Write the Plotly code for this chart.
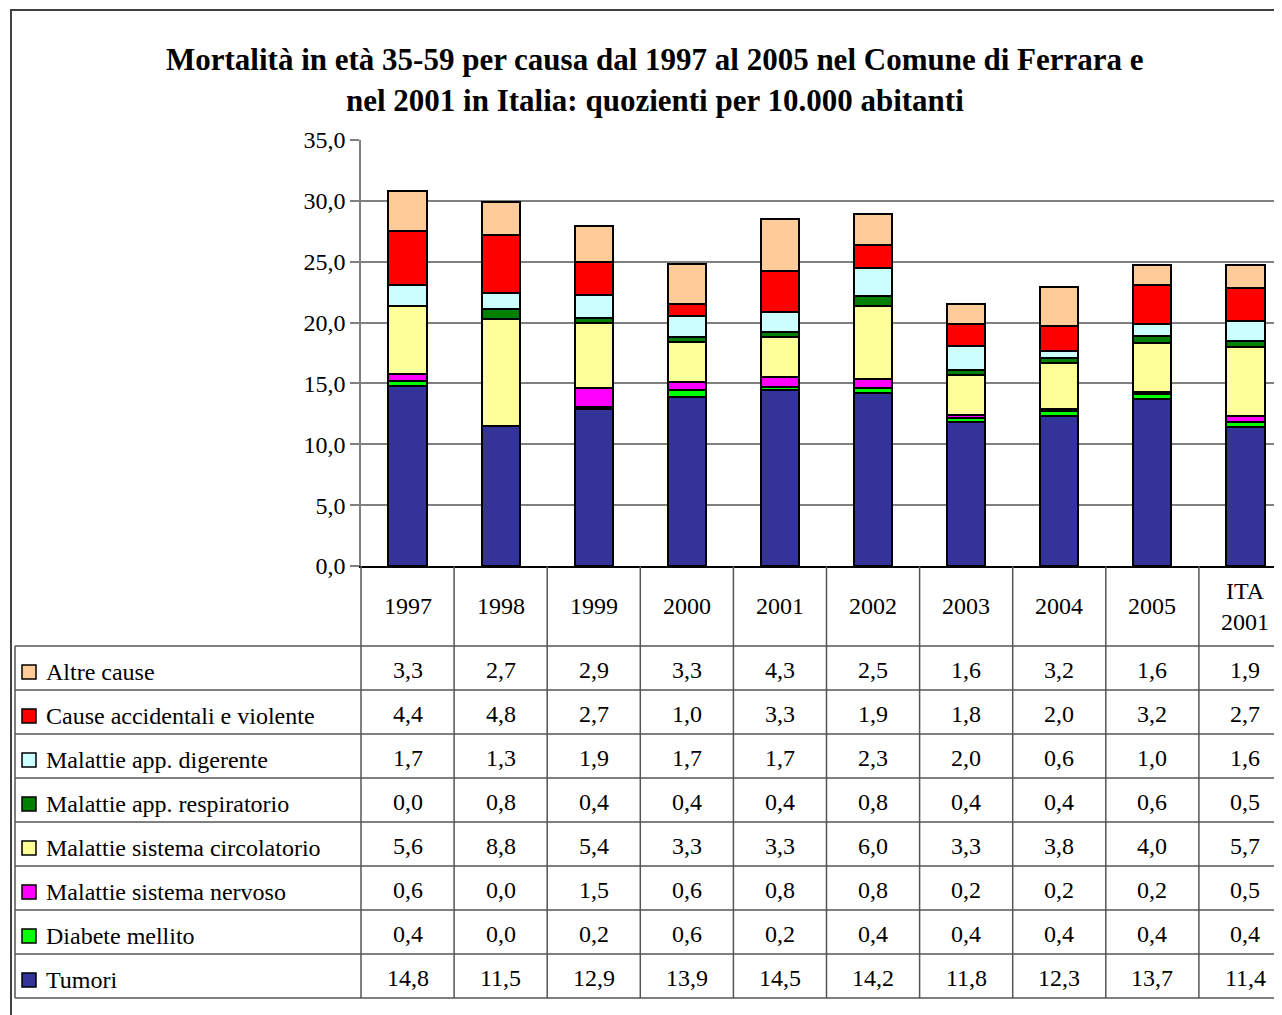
import plotly.graph_objects as go

# data
years = ["1997", "1998", "1999", "2000", "2001", "2002", "2003", "2004", "2005", "ITA<br>2001"]

tumori = [14.8, 11.5, 12.9, 13.9, 14.5, 14.2, 11.8, 12.3, 13.7, 11.4]
diabete = [0.4, 0.0, 0.2, 0.6, 0.2, 0.4, 0.4, 0.4, 0.4, 0.4]
nervoso = [0.6, 0.0, 1.5, 0.6, 0.8, 0.8, 0.2, 0.2, 0.2, 0.5]
circolatorio = [5.6, 8.8, 5.4, 3.3, 3.3, 6.0, 3.3, 3.8, 4.0, 5.7]
respiratorio = [0.0, 0.8, 0.4, 0.4, 0.4, 0.8, 0.4, 0.4, 0.6, 0.5]
digerente = [1.7, 1.3, 1.9, 1.7, 1.7, 2.3, 2.0, 0.6, 1.0, 1.6]
accidentali = [4.4, 4.8, 2.7, 1.0, 3.3, 1.9, 1.8, 2.0, 3.2, 2.7]
altre = [3.3, 2.7, 2.9, 3.3, 4.3, 2.5, 1.6, 3.2, 1.6, 1.9]

# bottom -> top of the stack
series = [
    ("Tumori", tumori, "#333399"),
    ("Diabete mellito", diabete, "#00FF00"),
    ("Malattie sistema nervoso", nervoso, "#FF00FF"),
    ("Malattie sistema circolatorio", circolatorio, "#FFFF99"),
    ("Malattie app. respiratorio", respiratorio, "#008000"),
    ("Malattie app. digerente", digerente, "#CCFFFF"),
    ("Cause accidentali e violente", accidentali, "#FF0000"),
    ("Altre cause", altre, "#FFCC99"),
]

FONT = "Liberation Serif, Times New Roman, serif"
OFF = 8  # page body margin
W, H = 1282 - OFF, 1015 - OFF
# plot area in screen pixels
L, R, T, B = 361, 1282, 140, 566
COL = 93.1
ROW = 44
TAB_TOP = 646
TXT = 24


def fx(p):
    return (p - L) / (R - L)


def fy(p):
    return (B - p) / (B - T)


def fmt(v):
    return f"{v:.1f}".replace(".", ",")


xpos = list(range(len(years)))

fig = go.Figure()
for name, vals, color in series:
    fig.add_trace(go.Bar(
        x=xpos, y=vals, name=name, width=0.41,
        marker=dict(color=color, line=dict(color="black", width=2)),
        showlegend=False,
    ))

shapes = []
annotations = []
line_col = "#555555"

# outer chart border
shapes.append(dict(type="rect", xref="paper", yref="paper",
                   x0=fx(11), x1=fx(1300), y0=fy(1030), y1=fy(10),
                   line=dict(color="#404040", width=2)))

# table vertical lines
for k in range(len(years) + 1):
    xp = L + COL * k
    shapes.append(dict(type="line", xref="paper", yref="paper",
                       x0=fx(xp), x1=fx(xp), y0=fy(B), y1=fy(TAB_TOP + ROW * len(series)),
                       line=dict(color=line_col, width=1.5)))
shapes.append(dict(type="line", xref="paper", yref="paper",
                   x0=fx(15), x1=fx(15), y0=fy(TAB_TOP), y1=fy(TAB_TOP + ROW * len(series)),
                   line=dict(color=line_col, width=1.5)))
# table horizontal lines
for r in range(len(series) + 1):
    yp = TAB_TOP + ROW * r
    shapes.append(dict(type="line", xref="paper", yref="paper",
                       x0=fx(15), x1=fx(1300), y0=fy(yp), y1=fy(yp),
                       line=dict(color=line_col, width=1.5)))

# header labels
for k, lab in enumerate(years):
    annotations.append(dict(xref="paper", yref="paper", x=fx(L + COL * (k + 0.5)), y=fy(606),
                            text=lab, showarrow=False, xanchor="center", yanchor="middle",
                            font=dict(family=FONT, size=TXT, color="black")))

# rows: top row is the top of the stack
for r, (name, vals, color) in enumerate(reversed(series)):
    yc = TAB_TOP + ROW * r + 26
    shapes.append(dict(type="rect", xref="paper", yref="paper",
                       x0=fx(22), x1=fx(36), y0=fy(yc - 7), y1=fy(yc + 7),
                       fillcolor=color, line=dict(color="black", width=1.5)))
    annotations.append(dict(xref="paper", yref="paper", x=fx(44), y=fy(yc),
                            text=name, showarrow=False, xanchor="left", yanchor="middle",
                            font=dict(family=FONT, size=TXT, color="black")))
    for k, v in enumerate(vals):
        annotations.append(dict(xref="paper", yref="paper", x=fx(L + COL * (k + 0.5)), y=fy(yc - 2),
                                text=fmt(v), showarrow=False, xanchor="center", yanchor="middle",
                                font=dict(family=FONT, size=TXT, color="black")))

# title
annotations.append(dict(xref="paper", yref="paper", x=fx(655), y=fy(60),
                        text="<b>Mortalità in età 35-59 per causa dal 1997 al 2005 nel Comune di Ferrara e</b>",
                        showarrow=False, xanchor="center", yanchor="middle",
                        font=dict(family=FONT, size=31, color="black")))
annotations.append(dict(xref="paper", yref="paper", x=fx(655), y=fy(101),
                        text="<b>nel 2001 in Italia: quozienti per 10.000 abitanti</b>",
                        showarrow=False, xanchor="center", yanchor="middle",
                        font=dict(family=FONT, size=31, color="black")))

fig.update_layout(
    width=W, height=H,
    margin=dict(l=L - OFF, r=W + OFF - R, t=T - OFF, b=H + OFF - B, pad=0),
    barmode="stack",
    plot_bgcolor="white", paper_bgcolor="white",
    separators=",.",
    shapes=shapes, annotations=annotations,
    font=dict(family=FONT, color="black"),
)
fig.update_xaxes(range=[-0.5, -0.5 + (R - L) / COL], showticklabels=False, showgrid=False,
                 zeroline=False, showline=True, linecolor="black", linewidth=2, ticks="")
fig.update_yaxes(range=[0, 35], dtick=5, tickformat=".1f", showgrid=True, gridcolor="#808080",
                 gridwidth=1.5, zeroline=False, showline=True, linecolor="#808080", linewidth=1.5,
                 ticks="outside", ticklen=9, tickcolor="#808080", tickwidth=1.5,
                 tickfont=dict(family=FONT, size=TXT, color="black"))

fig.write_html("out.html")
